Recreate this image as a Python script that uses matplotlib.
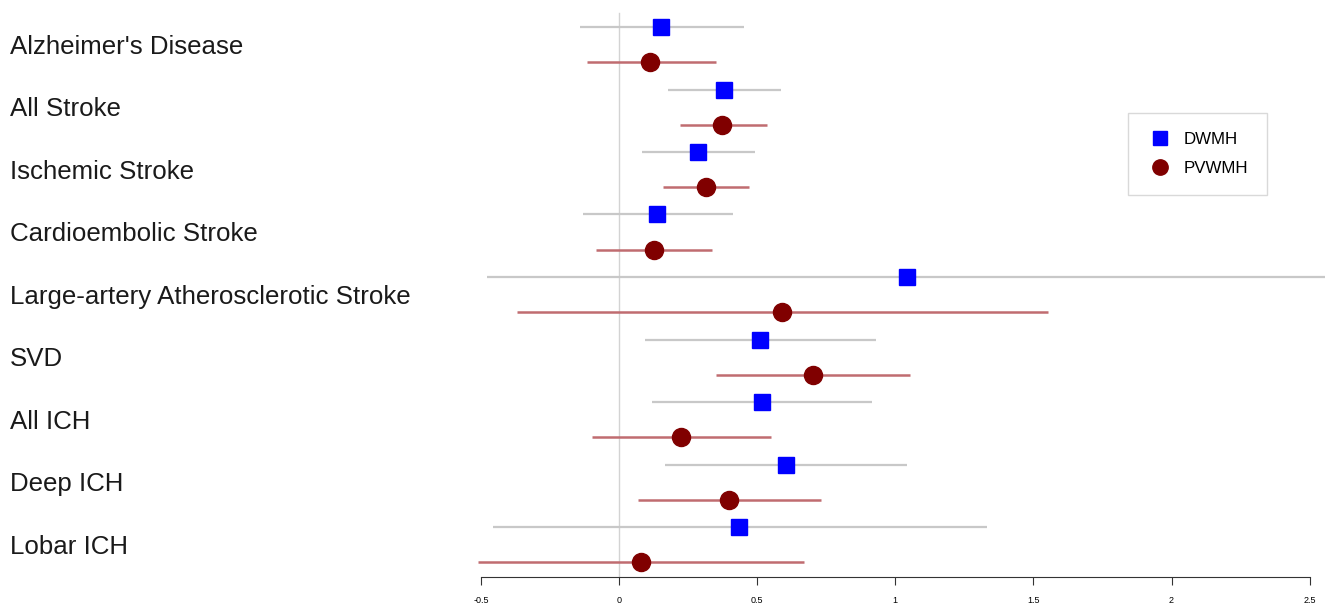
import matplotlib
matplotlib.use("Agg")
import matplotlib.pyplot as plt
import numpy as np

plt.rcParams['font.family'] = ['Liberation Sans', 'DejaVu Sans']

outcomes = ["Alzheimer's Disease", "All Stroke", "Ischemic Stroke", "Cardioembolic Stroke",
            "Large-artery Atherosclerotic Stroke", "SVD", "All ICH", "Deep ICH", "Lobar ICH"]

dwmh = [0.152, 0.380, 0.286, 0.138, 1.043, 0.511, 0.518, 0.605, 0.435]
dwmh_lo = [-0.141, 0.178, 0.083, -0.130, -0.480, 0.094, 0.120, 0.167, -0.458]
dwmh_hi = [0.453, 0.587, 0.493, 0.413, 2.600, 0.931, 0.917, 1.043, 1.333]

pvwmh = [0.112, 0.373, 0.315, 0.127, 0.590, 0.703, 0.225, 0.399, 0.080]
pvwmh_lo = [-0.116, 0.221, 0.159, -0.083, -0.371, 0.351, -0.098, 0.069, -0.511]
pvwmh_hi = [0.351, 0.536, 0.471, 0.337, 1.554, 1.054, 0.551, 0.732, 0.670]

xticks = [-0.5, 0, 0.5, 1, 1.5, 2, 2.5]
xticklabels = ['-0.5', '0', '0.5', '1', '1.5', '2', '2.5']

W, H = 1325, 607
fig = plt.figure(figsize=(W / 100, H / 100), dpi=100)
# axes: left edge at pixel 470, right at figure edge, top at 0, bottom (spine) at 577
ax = fig.add_axes([470 / W, (H - 577) / H, (W - 470) / W, 577 / H])

pxu = 276.2  # pixels per x unit
ax.set_xlim(-0.5 - 11 / pxu, -0.5 + (W - 481) / pxu)
rows = np.arange(len(outcomes))
ax.set_ylim((577 - 44.5) / 62.5, -44.5 / 62.5)

off = 0.28
ax.axvline(0, ymin=0, ymax=(577 - 13) / 577, color='#d3d3d3', lw=1, zorder=1)

ax.hlines(rows - off, dwmh_lo, dwmh_hi, color='#c8c8c8', lw=1.6, zorder=2, clip_on=False)
ax.hlines(rows + off, pvwmh_lo, pvwmh_hi, color='#c06c70', lw=1.8, zorder=2, clip_on=False)
ax.plot(dwmh, rows - off, 's', color='#0000ff', ms=11.5, zorder=3, label='DWMH', clip_on=False)
ax.plot(pvwmh, rows + off, 'o', color='#800000', ms=13, zorder=3, label='PVWMH', clip_on=False)

for i, name in enumerate(outcomes):
    fig.text(10 / W, 1 - (47 + 62.5 * i) / H, name, fontsize=18.6, color='#1a1a1a',
             ha='left', va='center')

for s in ['top', 'right', 'left']:
    ax.spines[s].set_visible(False)
ax.spines['bottom'].set_bounds(-0.5, 2.5)
ax.spines['bottom'].set_color('#333333')
ax.set_yticks([])
ax.set_xticks(xticks)
ax.set_xticklabels(xticklabels, fontsize=6.5)
ax.tick_params(axis='x', length=6, color='#333333', pad=8)

leg = ax.legend(loc='upper left', bbox_to_anchor=(1128 / W, 1 - 113 / H),
                bbox_transform=fig.transFigure, fontsize=12.2, frameon=True,
                fancybox=False, edgecolor='#d0d0d0', borderpad=1.1,
                labelspacing=0.85, handletextpad=0.6, handlelength=1.6,
                borderaxespad=0, markerscale=0.85)
leg.get_frame().set_linewidth(1)

fig.savefig('out.png', dpi=100)
